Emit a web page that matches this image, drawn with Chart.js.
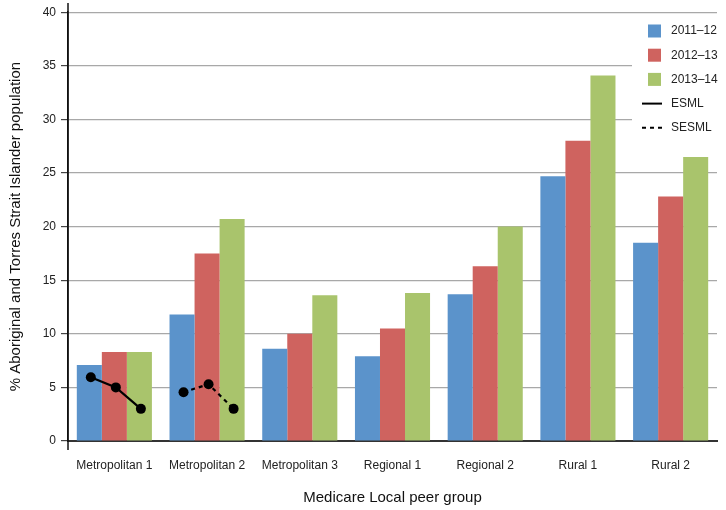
<!DOCTYPE html>
<html>
<head>
<meta charset="utf-8">
<script src="https://cdn.jsdelivr.net/npm/chart.js@4.4.1/dist/chart.umd.min.js"></script>
<style>
  html, body { margin: 0; padding: 0; background: #fff; }
  #wrap { width: 726px; height: 510px; }
</style>
</head>
<body>
<div id="wrap"><canvas id="chart"></canvas></div>
<script>
// Data
const groups = ["Metropolitan 1", "Metropolitan 2", "Metropolitan 3", "Regional 1", "Regional 2", "Rural 1", "Rural 2"];
const years = ["2011\u201312", "2012\u201313", "2013\u201314"];
const v2011 = [7.1, 11.8, 8.6, 7.9, 13.7, 24.7, 18.5];
const v2012 = [8.3, 17.5, 10.0, 10.5, 16.3, 28.0, 22.8];
const v2013 = [8.3, 20.7, 13.6, 13.8, 20.0, 34.1, 26.5];
// ESML sits on Metropolitan 1, SESML on Metropolitan 2 (one value per year)
const esml = [5.95, 5.0, 3.0];
const sesml = [4.55, 5.3, 3.0];
const yTicks = [0, 5, 10, 15, 20, 25, 30, 35, 40];

const lineSeries = [
  { label: 'ESML', group: 0, values: esml, dash: [] },
  { label: 'SESML', group: 1, values: sesml, dash: [4, 4] }
];

const barColors = ['#5b93cb', '#cf635f', '#a9c46c'];
const font = "'Liberation Sans', Arial, sans-serif";

// ESML / SESML lines drawn over the bars of their group, via the chart's own bar elements and y scale
const linesPlugin = {
  id: 'smlLines',
  afterDatasetsDraw(chart) {
    const ctx = chart.ctx;
    const y = chart.scales.y;
    ctx.save();
    lineSeries.forEach(s => {
      const pts = s.values.map((v, i) => ({
        x: chart.getDatasetMeta(i).data[s.group].x + 1.5,
        y: y.getPixelForValue(v)
      }));
      ctx.strokeStyle = '#000';
      ctx.lineWidth = 2.2;
      ctx.setLineDash(s.dash);
      ctx.beginPath();
      pts.forEach((p, i) => i ? ctx.lineTo(p.x, p.y) : ctx.moveTo(p.x, p.y));
      ctx.stroke();
      ctx.setLineDash([]);
      ctx.fillStyle = '#000';
      pts.forEach(p => {
        ctx.beginPath();
        ctx.arc(p.x, p.y, 5, 0, Math.PI * 2);
        ctx.fill();
      });
    });
    ctx.restore();
  }
};

const legendPlugin = {
  id: 'inLegend',
  afterDraw(chart) {
    const ctx = chart.ctx;
    const area = chart.chartArea;
    // y axis runs a bit past the plot on both ends
    ctx.save();
    ctx.strokeStyle = '#111';
    ctx.lineWidth = 1.5;
    ctx.beginPath();
    ctx.moveTo(area.left, 3);
    ctx.lineTo(area.left, area.bottom + 9);
    ctx.stroke();

    // legend box inside plot, top right
    ctx.fillStyle = '#fff';
    ctx.fillRect(632, 18, area.right - 632 + 1, 124);
    ctx.font = '12px ' + font;
    ctx.textBaseline = 'middle';
    const items = chart.data.datasets.map(ds => ({ label: ds.label, color: ds.backgroundColor }))
      .concat(lineSeries.map(s => ({ label: s.label, dash: s.dash })));
    items.forEach((it, i) => {
      const yy = 31 + i * 24.2;
      if (it.dash) {
        ctx.strokeStyle = '#000';
        ctx.lineWidth = 2;
        ctx.setLineDash(it.dash);
        ctx.beginPath();
        ctx.moveTo(642, yy);
        ctx.lineTo(662, yy);
        ctx.stroke();
        ctx.setLineDash([]);
      } else {
        ctx.fillStyle = it.color;
        ctx.fillRect(648, yy - 6.5, 13, 13);
      }
      ctx.fillStyle = '#222';
      ctx.fillText(it.label, 671, yy);
    });
    ctx.restore();
  }
};

new Chart(document.getElementById('chart'), {
  type: 'bar',
  data: {
    labels: groups,
    datasets: [v2011, v2012, v2013].map((vals, i) => ({
      label: years[i],
      data: vals,
      backgroundColor: barColors[i],
      borderWidth: 0,
      barPercentage: 1.0,
      categoryPercentage: 0.81
    }))
  },
  options: {
    responsive: true,
    maintainAspectRatio: false,
    animation: false,
    layout: { padding: { left: 0, right: 9, top: 10, bottom: 0 } },
    plugins: {
      legend: { display: false },
      tooltip: { enabled: false }
    },
    scales: {
      x: {
        grid: { display: false, drawTicks: false },
        border: { color: '#333', width: 2 },
        ticks: { color: '#222', font: { family: font, size: 12 }, padding: 17, maxRotation: 0 },
        title: {
          display: true,
          text: 'Medicare Local peer group',
          color: '#111',
          font: { family: font, size: 15 },
          padding: { top: 0, bottom: 3 }
        },
        afterFit(scale) { scale.height = 69; }
      },
      y: {
        min: 0,
        max: 40,
        afterBuildTicks(scale) { scale.ticks = yTicks.map(v => ({ value: v })); },
        grid: { color: '#a8a8a8', lineWidth: 1.2, tickColor: '#444', tickLength: 7 },
        border: { color: '#111', width: 1.5 },
        ticks: { color: '#222', font: { family: font, size: 12 }, padding: 5 },
        title: {
          display: true,
          text: '% Aboriginal and Torres Strait Islander population',
          color: '#111',
          font: { family: font, size: 15 },
          padding: { top: 7, bottom: 0 }
        },
        afterFit(scale) { scale.width = 68; }
      }
    }
  },
  plugins: [linesPlugin, legendPlugin]
});
</script>
</body>
</html>
